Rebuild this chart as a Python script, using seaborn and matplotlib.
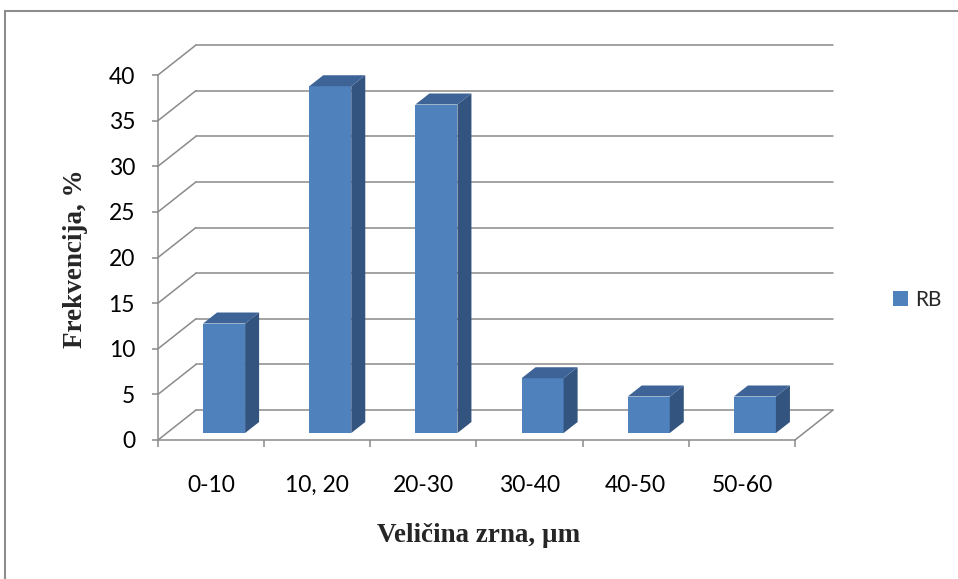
import matplotlib
matplotlib.use("Agg")
import matplotlib.pyplot as plt
from matplotlib.patches import Polygon, Rectangle, Patch
import seaborn as sns
import numpy as np

# ---- data ----
categories = ["0-10", "10, 20", "20-30", "30-40", "40-50", "50-60"]
values = [12, 38, 36, 6, 4, 4]
y_ticks = [0, 5, 10, 15, 20, 25, 30, 35, 40]
series_name = "RB"
x_title = "Veličina zrna, µm"
y_title = "Frekvencija, %"

# ---- style ----
FRONT = "#4f81bd"
TOP = "#3e6497"
SIDE = "#32547f"
GRID = "#8a8a8a"
W, H = 958, 579

sns.set_theme(style="white")
plt.rcParams["font.family"] = ["Lato", "DejaVu Sans"]

fig = plt.figure(figsize=(W / 100, H / 100), dpi=100)
# axes: front plane, left px 158..795, top py 75 .. bottom py 440
ax = fig.add_axes([158 / W, 1 - 440 / H, (795 - 158) / W, (440 - 75) / H])
ax.set_facecolor("none")

sns.barplot(x=categories, y=values, color=FRONT, saturation=1, width=0.396,
            errorbar=None, ax=ax, zorder=3, linewidth=0)

ax.set_xlim(-0.5, len(categories) - 0.5)
ax.set_ylim(0, 40)

# 3D offsets (data units)
px_x = 637 / 6.0
px_y = 365 / 40.0
wall_dx, wall_dy = 38 / px_x, 30 / px_y
bar_shift_x, bar_base = 13 / px_x, 7 / px_y
depth_dx, depth_dy = 14 / px_x, 11 / px_y

# back wall gridlines and left wall diagonals
xl, xr = -0.5, len(categories) - 0.5
for v in y_ticks:
    ax.plot([xl + wall_dx, xr + wall_dx], [v + wall_dy, v + wall_dy], color=GRID,
            lw=1.1, clip_on=False, zorder=1)
    ax.plot([xl, xl + wall_dx], [v, v + wall_dy], color=GRID, lw=1.1,
            clip_on=False, zorder=1)
# floor right edge
ax.plot([xr, xr + wall_dx], [0, wall_dy], color=GRID, lw=1.1, clip_on=False, zorder=1)

# bars: shift and add depth faces
for p in ax.patches:
    x0 = p.get_x() + bar_shift_x
    w = p.get_width()
    h = p.get_height()
    p.set_x(x0)
    p.set_y(bar_base)
    p.set_clip_on(False)
    b = bar_base
    side = Polygon([(x0 + w, b), (x0 + w + depth_dx, b + depth_dy),
                    (x0 + w + depth_dx, b + h + depth_dy), (x0 + w, b + h)],
                   closed=True, facecolor=SIDE, edgecolor="none", zorder=3, clip_on=False)
    top = Polygon([(x0, b + h), (x0 + depth_dx, b + h + depth_dy),
                   (x0 + w + depth_dx, b + h + depth_dy), (x0 + w, b + h)],
                  closed=True, facecolor=TOP, edgecolor="none", zorder=3, clip_on=False)
    ax.add_patch(side)
    ax.add_patch(top)

# spines
for s in ["top", "right"]:
    ax.spines[s].set_visible(False)
for s in ["left", "bottom"]:
    ax.spines[s].set_color(GRID)
    ax.spines[s].set_linewidth(1.1)
    ax.spines[s].set_zorder(2)

# ticks
ax.set_yticks(y_ticks)
ax.set_yticklabels([str(t) for t in y_ticks])
ax.tick_params(axis="y", direction="out", length=4.5, width=1.1, color=GRID,
               pad=12, labelsize=16.5, labelcolor="black", left=True)
ax.set_xticks(np.arange(-0.5, len(categories), 1.0))
ax.set_xticklabels([])
ax.set_xticks(np.arange(len(categories)), minor=True)
ax.set_xticklabels(categories, minor=True)
ax.tick_params(axis="x", which="major", direction="out", length=5, width=1.1,
               color=GRID, bottom=True)
ax.tick_params(axis="x", which="minor", length=0, pad=25, labelsize=16.5,
               labelcolor="black")

# axis titles
ax.set_ylabel(y_title, fontsize=19.5, fontweight="bold",
              family=["Liberation Serif", "DejaVu Serif"], va="center")
ax.yaxis.set_label_coords((76 - 158) / 637, (440 - 259) / 365)
ax.set_xlabel(x_title, fontsize=19.5, fontweight="bold",
              family=["Liberation Serif", "DejaVu Serif"], va="center")
ax.xaxis.set_label_coords((479 - 158) / 637, (440 - 535) / 365)

# legend
handle = Patch(facecolor=FRONT, edgecolor="none", label=series_name)
fig.legend(handles=[handle], loc="center left", bbox_to_anchor=(893 / W, 1 - 300 / H),
           frameon=False, fontsize=15, handlelength=0.72, handleheight=0.72,
           handletextpad=0.34, borderaxespad=0, borderpad=0)

# outer frame
fig.patches.append(Rectangle((5 / W, -0.05), 1.1, 1 - 11 / H + 0.05,
                             transform=fig.transFigure, fill=False,
                             edgecolor="#8c8c8c", linewidth=1.5, zorder=0))

fig.savefig("out.png", dpi=100)
